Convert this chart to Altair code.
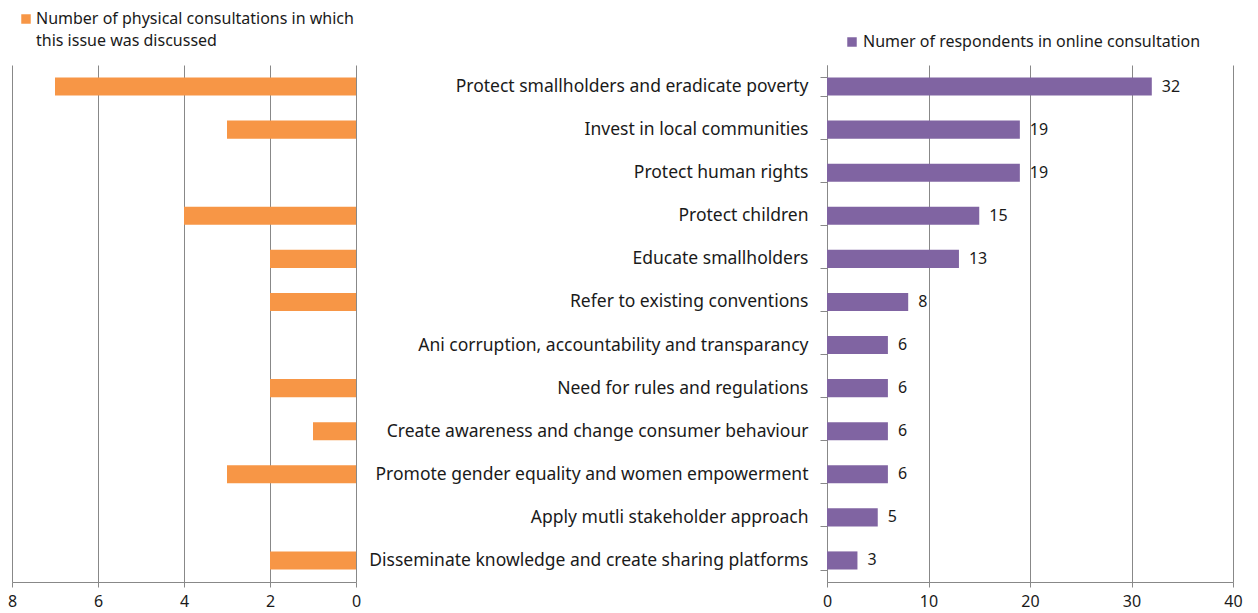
import altair as alt
import pandas as pd

categories = [
    "Protect smallholders and eradicate poverty",
    "Invest in local communities",
    "Protect human rights",
    "Protect children ",
    "Educate smallholders",
    "Refer to existing conventions",
    "Ani corruption, accountability and transparancy",
    "Need for rules and regulations",
    "Create awareness and change consumer behaviour",
    "Promote gender equality and women empowerment",
    "Apply mutli stakeholder approach",
    "Disseminate knowledge and create sharing platforms",
]
physical = [7, 3, 0, 4, 2, 2, 0, 2, 1, 3, 0, 2]
online = [32, 19, 19, 15, 13, 8, 6, 6, 6, 6, 5, 3]

phys_lines = ["Number of physical consultations in which", "this issue was discussed"]
online_name = "Numer of respondents in online consultation"

df = pd.DataFrame({"category": categories, "physical": physical, "online": online})
one = pd.DataFrame({"k": [0]})

FONT = "Noto Sans"
GRID = "#888888"
ORANGE = "#F79646"
PURPLE = "#8064A2"
TXT = "#1a1a1a"
H = 517

yscale = alt.Scale(domain=categories, paddingInner=0.58, paddingOuter=0.29)

left_bars = alt.Chart(df).mark_bar(color=ORANGE).encode(
    y=alt.Y("category:N", sort=categories, scale=yscale, axis=None),
    x=alt.X("physical:Q", scale=alt.Scale(domain=[0, 8], reverse=True, nice=False),
            axis=alt.Axis(values=[0, 2, 4, 6, 8], title=None, grid=True, labelFlush=False,
                          gridColor=GRID, domainColor=GRID, tickColor=GRID, tickSize=5,
                          labelPadding=6)),
)
left_sym = alt.Chart(one).mark_square(size=90, color=ORANGE, opacity=1).encode(
    x=alt.value(14), y=alt.value(-46))
left_t1 = alt.Chart(one).mark_text(align="left", baseline="middle", fontSize=16, font=FONT,
                                   color=TXT).encode(
    x=alt.value(24), y=alt.value(-46), text=alt.value(phys_lines[0]))
left_t2 = alt.Chart(one).mark_text(align="left", baseline="middle", fontSize=16, font=FONT,
                                   color=TXT).encode(
    x=alt.value(24), y=alt.value(-24), text=alt.value(phys_lines[1]))
left = alt.layer(left_bars, left_sym, left_t1, left_t2).properties(width=344, height=H)

right_bars = alt.Chart(df).mark_bar(color=PURPLE).encode(
    y=alt.Y("category:N", sort=categories, scale=yscale,
            axis=alt.Axis(title=None, tickBand="extent", tickSize=7, labelPadding=12,
                          labelLimit=700, labelFontSize=17.5, domainColor=GRID, tickColor=GRID,
                          grid=False)),
    x=alt.X("online:Q", scale=alt.Scale(domain=[0, 40], nice=False),
            axis=alt.Axis(values=[0, 10, 20, 30, 40], title=None, grid=True, labelFlush=False,
                          gridColor=GRID, domainColor=GRID, tickColor=GRID, tickSize=5,
                          labelPadding=6)),
)
right_text = alt.Chart(df).mark_text(align="left", baseline="middle", dx=10, fontSize=16,
                                     color=TXT, font=FONT).encode(
    y=alt.Y("category:N", sort=categories, scale=yscale),
    x=alt.X("online:Q"),
    text=alt.Text("online:Q"),
)
right_sym = alt.Chart(one).mark_square(size=90, color=PURPLE, opacity=1).encode(
    x=alt.value(25), y=alt.value(-23))
right_t = alt.Chart(one).mark_text(align="left", baseline="middle", fontSize=16, font=FONT,
                                   color=TXT).encode(
    x=alt.value(36), y=alt.value(-23), text=alt.value(online_name))
right = alt.layer(right_bars, right_text, right_sym, right_t).properties(width=406, height=H)

chart = alt.hconcat(left, right, spacing=471, bounds="flush").configure_view(
    stroke=None).configure_axis(labelFont=FONT, labelColor=TXT, labelFontSize=16
).properties(padding={"left": 7, "top": 11, "right": 0, "bottom": 0})

chart.save("out.html", embed_options={"renderer": "svg", "actions": False})
